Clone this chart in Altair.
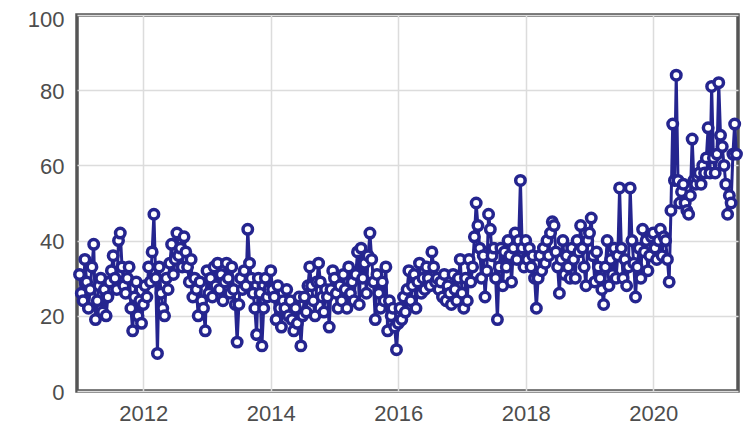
import altair as alt
import pandas as pd

# Values three times a month (1st, 11th, 21st)
y2011 = [31, 26, 24, 35, 29, 22, 27, 33, 39, 19, 24, 28, 30, 21, 27, 20, 25, 29,
         32, 36, 30, 27, 40, 42, 33, 28, 26, 30, 33, 22, 16, 25, 29, 20, 24, 18]
y2012 = [23, 28, 25, 33, 29, 37, 47, 30, 10, 33, 26, 22, 20, 30, 27, 34, 39, 31,
         35, 42, 36, 38, 33, 41, 37, 33, 29, 35, 25, 30, 27, 20, 29, 24, 22, 16]
y2013 = [32, 26, 30, 25, 33, 28, 34, 27, 31, 24, 29, 34, 30, 26, 33, 27, 23, 13,
         23, 30, 27, 32, 28, 43, 34, 30, 26, 22, 15, 30, 26, 12, 22, 30, 25, 27]
y2014 = [32, 27, 25, 19, 28, 22, 17, 24, 22, 27, 20, 24, 19, 16, 22, 18, 25, 12,
         20, 25, 21, 28, 33, 28, 24, 20, 29, 34, 29, 25, 21, 27, 25, 17, 27, 32]
y2015 = [30, 26, 22, 28, 24, 31, 27, 22, 33, 26, 29, 24, 31, 37, 23, 38, 30, 34,
         26, 36, 42, 35, 29, 19, 31, 26, 22, 29, 24, 33, 16, 24, 20, 22, 17, 11]
y2016 = [18, 22, 19, 25, 21, 27, 32, 24, 28, 31, 22, 29, 34, 26, 30, 27, 33, 30,
         28, 37, 33, 29, 30, 27, 29, 25, 31, 24, 28, 26, 23, 31, 27, 24, 30, 35]
y2017 = [26, 22, 30, 24, 35, 29, 33, 41, 50, 44, 38, 30, 36, 25, 32, 47, 43, 36,
         38, 30, 19, 33, 38, 28, 37, 33, 40, 36, 29, 38, 42, 35, 40, 56, 38, 33]
y2018 = [40, 35, 38, 33, 36, 30, 22, 30, 36, 32, 38, 34, 40, 36, 42, 45, 44, 37,
         33, 26, 35, 40, 31, 36, 33, 30, 38, 35, 30, 40, 37, 44, 38, 33, 28, 40]
y2019 = [42, 46, 36, 29, 37, 33, 30, 27, 23, 33, 40, 28, 35, 31, 38, 30, 36, 54,
         38, 30, 35, 28, 33, 54, 40, 34, 25, 33, 38, 30, 43, 37, 40, 32, 36, 41]
y2020 = [42, 38, 35, 40, 43, 36, 41, 40, 35, 29, 48, 71, 56, 84, 56, 50, 53, 55,
         50, 48, 47, 52, 67, 56, 55, 57, 58, 55, 60, 58, 62, 70, 58, 81, 62, 58]
y2021 = [63, 82, 68, 65, 60, 55, 47, 52, 50, 63, 71, 63]

series = {2011: y2011, 2012: y2012, 2013: y2013, 2014: y2014, 2015: y2015,
          2016: y2016, 2017: y2017, 2018: y2018, 2019: y2019, 2020: y2020, 2021: y2021}

x_ticks = [2012, 2014, 2016, 2018, 2020]
y_ticks = [0, 20, 40, 60, 80, 100]

rows = []
for yr, vals in series.items():
    for i, v in enumerate(vals):
        rows.append({"t": yr + i / 36.0, "v": v})
df = pd.DataFrame(rows)

navy = "#25258f"

x = alt.X("t:Q", scale=alt.Scale(domain=[2010.96, 2021.33], nice=False, zero=False),
          axis=alt.Axis(values=x_ticks, format="d", title=None, labelPadding=12,
                        labelFlush=False, labelOverlap=False))
y = alt.Y("v:Q", scale=alt.Scale(domain=[0, 100], nice=False),
          axis=alt.Axis(values=y_ticks, title=None, labelPadding=13,
                        labelOffset={"condition": {"test": "datum.value == 100", "value": 4},
                                     "value": 1},
                        labelFlush=False, labelOverlap=False))

line = alt.Chart(df).mark_line(color=navy, strokeWidth=3).encode(x=x, y=y)
pts = alt.Chart(df).mark_point(shape="circle", fill="white", stroke=navy, strokeWidth=3.5,
                               size=90, opacity=1, fillOpacity=1).encode(x=x, y=y)

chart = (line + pts).properties(
    width=661, height=376,
    autosize=alt.AutoSizeParams(type="none"),
    padding={"left": 69, "top": 7, "right": 6, "bottom": 33},
).configure_view(
    stroke="#555555", strokeWidth=3.5
).configure_axis(
    labelFont="Liberation Sans", labelFontSize=22, labelColor="#4d4d4d",
    domain=False, ticks=False, gridColor="#dcdcdc", gridWidth=1.5
)

chart.save("out.html", embed_options={"renderer": "svg", "actions": False})
